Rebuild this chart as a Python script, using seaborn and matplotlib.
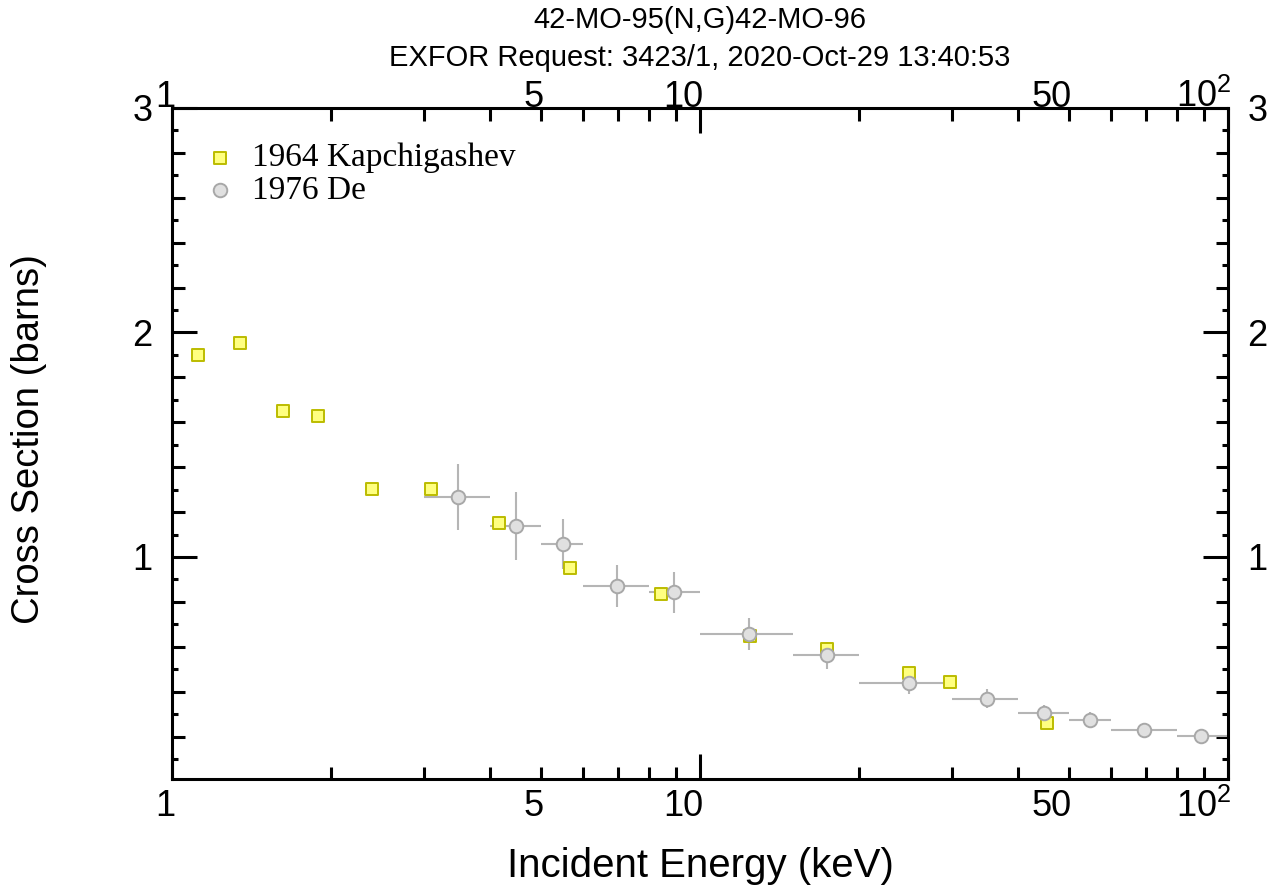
import matplotlib
matplotlib.use("Agg")
import matplotlib.pyplot as plt
import matplotlib.ticker as mticker
import matplotlib.transforms as mtransforms
import seaborn as sns
import numpy as np

# ---------------- data ----------------
kap_label = "1964 Kapchigashev"
kap_E = [1.12, 1.345, 1.623, 1.89, 2.39, 3.09, 4.17, 5.67, 8.44, 12.44, 17.4, 24.9, 29.8, 45.4]
kap_sig = [1.900, 1.953, 1.650, 1.628, 1.305, 1.305, 1.151, 0.951, 0.835, 0.648, 0.592, 0.481, 0.443, 0.262]

de_label = "1976 De"
de_E = [3.48, 4.48, 5.50, 6.96, 8.93, 12.4, 17.4, 24.9, 35.0, 44.8, 54.8, 69.3, 88.9]
de_sig = [1.267, 1.138, 1.058, 0.871, 0.842, 0.657, 0.563, 0.437, 0.368, 0.305, 0.276, 0.231, 0.201]
de_Elo = [3.0, 4.0, 5.0, 6.0, 8.0, 10.0, 15.0, 20.0, 30.0, 40.0, 50.0, 60.0, 80.0]
de_Ehi = [4.0, 5.0, 6.0, 8.0, 10.0, 15.0, 20.0, 30.0, 40.0, 50.0, 60.0, 80.0, 100.0]
de_dsig = [0.147, 0.150, 0.110, 0.092, 0.090, 0.070, 0.060, 0.047, 0.042, 0.037, 0.035, 0.020, 0.020]

title1 = "42-MO-95(N,G)42-MO-96"
title2 = "EXFOR Request: 3423/1, 2020-Oct-29 13:40:53"
xlabel = "Incident Energy (keV)"
ylabel = "Cross Section (barns)"
xtick_vals = [1, 5, 10, 50, 100]
xtick_labels = ["1", "5", "10", "50", r"$10^2$"]
ytick_vals = [1, 2, 3]
ytick_labels = ["1", "2", "3"]

# ---------------- style ----------------
sns.set_style("ticks")
plt.rcParams["font.family"] = ["Liberation Sans", "DejaVu Sans"]
plt.rcParams["mathtext.fontset"] = "custom"
plt.rcParams["mathtext.rm"] = "Liberation Sans"
plt.rcParams["mathtext.it"] = "Liberation Sans:italic"
plt.rcParams["mathtext.bf"] = "Liberation Sans:bold"
for k in ("text.color", "axes.labelcolor", "xtick.color", "ytick.color", "axes.edgecolor"):
    plt.rcParams[k] = "black"

fig = plt.figure(figsize=(12.72, 8.89), dpi=100)
ax = fig.add_axes([172 / 1272, 110 / 889, 1056 / 1272, 671 / 889])

# error bars for De
E = np.array(de_E)
xerr = [E - np.array(de_Elo), np.array(de_Ehi) - E]
ax.errorbar(de_E, de_sig, xerr=xerr, yerr=de_dsig, fmt="none",
            ecolor="#b5b5b5", elinewidth=1.5, capsize=0, zorder=2)

sns.scatterplot(x=kap_E, y=kap_sig, marker="s", s=76, color="#ffff80",
                edgecolor="#bcbc00", linewidth=1.4, label=kap_label, ax=ax, zorder=3)
sns.scatterplot(x=de_E, y=de_sig, marker="o", s=95, color="#e0e0e0",
                edgecolor="#a8a8a8", linewidth=1.4, label=de_label, ax=ax, zorder=4)

ax.set_xscale("log")
ax.set_xlim(1, 100)
ax.set_ylim(0.011, 3.0)

ax.xaxis.set_major_locator(mticker.FixedLocator(xtick_vals))
ax.xaxis.set_major_formatter(mticker.FixedFormatter(xtick_labels))
xminor = [v * d for d in (1, 10) for v in (2, 3, 4, 6, 7, 8, 9)]
ax.xaxis.set_minor_locator(mticker.FixedLocator(xminor))
ax.xaxis.set_minor_formatter(mticker.NullFormatter())

ax.yaxis.set_major_locator(mticker.FixedLocator(ytick_vals))
ax.yaxis.set_major_formatter(mticker.FixedFormatter(ytick_labels))
yminor = [round(k * 0.1, 1) for k in range(1, 30) if k % 10 != 0]
ax.yaxis.set_minor_locator(mticker.FixedLocator(yminor))
ax.yaxis.set_minor_formatter(mticker.NullFormatter())

for s in ax.spines.values():
    s.set_linewidth(2.2)
    s.set_color("black")

ax.tick_params(axis="both", which="both", direction="in", top=True, right=True,
               width=2.2, color="black", labelcolor="black")
ax.tick_params(axis="both", which="major", length=18, labelsize=26)
ax.tick_params(axis="both", which="minor", length=9)
ax.tick_params(axis="y", which="major", labelleft=True, labelright=True, pad=14)
ax.tick_params(axis="x", which="major", labeltop=True, labelbottom=False, pad=-5)

ax.set_xlabel(xlabel, fontsize=29)
ax.set_ylabel(ylabel, fontsize=27.5)
ax.xaxis.set_label_coords(0.5, -0.101)
ax.yaxis.set_label_coords(-0.118, 0.507)
ax.xaxis.label.set_va("top")

fig.text(700 / 1272, 1 - 20 / 889, title1, ha="center", va="center", fontsize=21)
fig.text(700 / 1272, 1 - 58 / 889, title2, ha="center", va="center", fontsize=21)

leg = ax.legend(loc="upper left", bbox_to_anchor=(0.0298, 0.948), frameon=False,
                prop={"family": "Liberation Serif", "size": 24},
                handlelength=1.0, handletextpad=0.47, borderpad=0, borderaxespad=0,
                labelspacing=0.06, scatterpoints=1)

# bottom tick labels via secondary axis (separate padding from the top labels)
sec = ax.secondary_xaxis("bottom")
sec.xaxis.set_major_locator(mticker.FixedLocator(xtick_vals))
sec.xaxis.set_major_formatter(mticker.FixedFormatter(xtick_labels))
sec.xaxis.set_minor_locator(mticker.NullLocator())
sec.tick_params(axis="x", which="major", length=0, labelsize=26, pad=7,
                labelcolor="black")
sec.spines["bottom"].set_visible(False)

# per-tick lengths and label alignment (labels sit right-aligned at the ticks)
fig.canvas.draw()
shift = mtransforms.ScaledTranslation(3 / 100, 0, fig.dpi_scale_trans)
for v, t in zip(xtick_vals, ax.xaxis.get_major_ticks()):
    L = 18 if v in (1, 10, 100) else 9
    t.tick1line.set_markersize(L)
    t.tick2line.set_markersize(L)
    t.label2.set_horizontalalignment("right")
    t.label2.set_transform(t.label2.get_transform() + shift)
for t in sec.xaxis.get_major_ticks():
    t.label1.set_horizontalalignment("right")
    t.label1.set_transform(t.label1.get_transform() + shift)
for v, t in zip(yminor, ax.yaxis.get_minor_ticks()):
    L = 9 if round(v * 10) % 2 == 0 else 4.5
    t.tick1line.set_markersize(L)
    t.tick2line.set_markersize(L)

fig.savefig("out.png", dpi=100)
